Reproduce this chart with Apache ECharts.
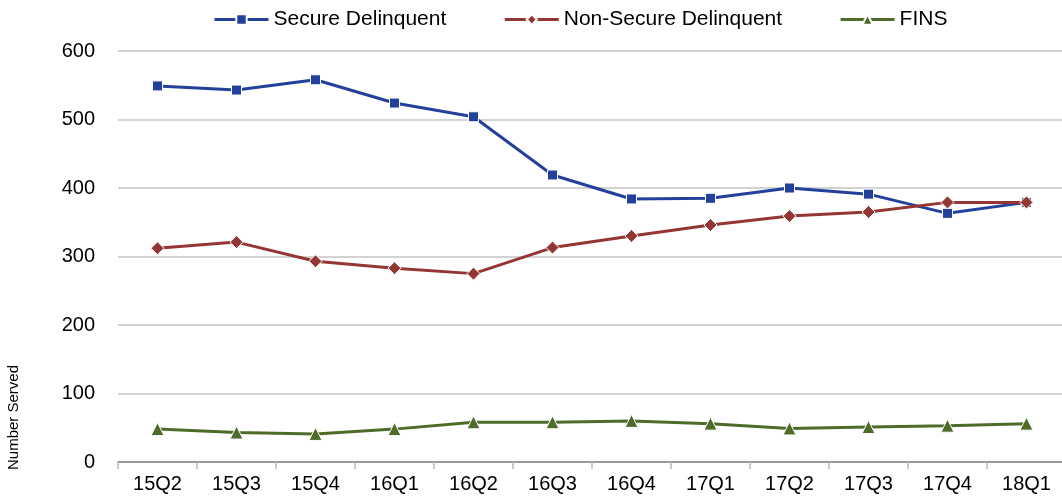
<!DOCTYPE html>
<html>
<head>
    <meta charset="UTF-8">
    <title>number served</title>
    <script src="https://cdn.jsdelivr.net/npm/echarts@6/dist/echarts.min.js"></script>
    <style>
        *{margin:0;padding:0}
        html, body{ width:100%; height:100%; background:#fff; }
        #main{ width:1062px; height:503px; }
    </style>
</head>
<body>
    <div id="main"></div>
    <script type="text/javascript">
        var quarters = ['15Q2','15Q3','15Q4','16Q1','16Q2','16Q3','16Q4','17Q1','17Q2','17Q3','17Q4','18Q1'];
        var secureDelinquent = [549, 543, 558, 524, 504, 419, 384, 385, 400, 391, 363, 379];
        var nonSecureDelinquent = [312, 321, 293, 283, 275, 313, 330, 346, 359, 365, 379, 379];
        var fins = [48, 43, 41, 48, 58, 58, 60, 56, 49, 51, 53, 56];

        var font = 'Liberation Sans, Arial, sans-serif';
        var myChart = echarts.init(document.getElementById('main'));

        function lineSeries (name, data, color, symbol, size) {
            return {
                name: name,
                type: 'line',
                data: data,
                symbol: symbol,
                symbolSize: size,
                lineStyle: { color: color, width: 3 },
                itemStyle: { color: color, borderColor: '#fff', borderWidth: 1 },
                animation: false
            };
        }

        var option = {
            backgroundColor: '#fff',
            textStyle: { fontFamily: font },
            legend: {
                top: 4,
                left: 208,
                itemWidth: 54,
                itemHeight: 13,
                itemGap: 57,
                lineStyle: { width: 3 },
                textStyle: { fontSize: 21, color: '#000', fontFamily: font }
            },
            grid: { left: 118, width: 948, top: 51, bottom: 41, containLabel: false, outerBoundsMode: 'none' },
            xAxis: {
                type: 'category',
                data: quarters,
                axisLine: { lineStyle: { color: '#888', width: 1.5 } },
                axisTick: { show: true, length: 7, lineStyle: { color: '#bbb', width: 1.5 } },
                axisLabel: { color: '#000', fontSize: 20, margin: 12, fontFamily: font }
            },
            yAxis: {
                type: 'value',
                min: 0,
                max: 600,
                interval: 100,
                axisLine: { show: false },
                axisTick: { show: false },
                axisLabel: { color: '#000', fontSize: 20, margin: 23, fontFamily: font },
                splitLine: { lineStyle: { color: '#c4c4c4', width: 1.5 } }
            },
            graphic: [{
                type: 'text',
                x: 6,
                y: 470,
                rotation: Math.PI / 2,
                style: { text: 'Number Served', fontSize: 15, fill: '#000', fontFamily: font }
            }],
            series: [
                lineSeries('Secure Delinquent', secureDelinquent, '#23409a', 'rect', 10),
                lineSeries('Non-Secure Delinquent', nonSecureDelinquent, '#943634', 'diamond', 13),
                lineSeries('FINS', fins, '#4e6b2a', 'triangle', 13)
            ]
        };
        myChart.setOption(option);
    </script>
</body>
</html>
